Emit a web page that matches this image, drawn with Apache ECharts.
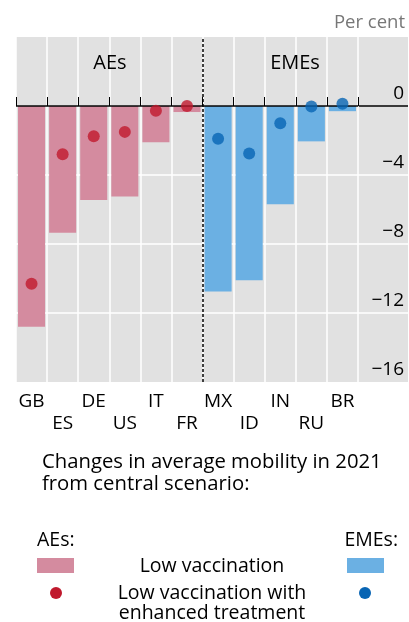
<!DOCTYPE html>
<html><head><meta charset="utf-8">
<script src="https://cdn.jsdelivr.net/npm/echarts@6/dist/echarts.min.js"></script>
<style>html,body{margin:0;padding:0;background:#fff}#c{width:409px;height:622px}</style>
</head><body><div id="c"></div>
<script>
const categories = ['GB','ES','DE','US','IT','FR','MX','ID','IN','RU','BR'];
const lowVaccAEs   = [-12.8,-7.35,-5.45,-5.25,-2.1,-0.35,null,null,null,null,null];
const lowVaccEMEs  = [null,null,null,null,null,null,-10.75,-10.1,-5.7,-2.05,-0.3];
const enhancedAEs  = [-10.3,-2.8,-1.75,-1.5,-0.27,0.0,null,null,null,null,null];
const enhancedEMEs = [null,null,null,null,null,null,-1.9,-2.75,-1.0,-0.03,0.13];
const yTicks = [-16,-12,-8,-4,0,4];

const FONT = 'Open Sans';
const pink = '#d48b9f', blue = '#6bb0e3', red = '#c0192d', dblue = '#0865b4', gray = '#e1e1e1';
const nAEs = lowVaccAEs.filter(v => v !== null).length;

const chart = echarts.init(document.getElementById('c'), null, {renderer:'canvas'});
const fmtY = v => v === yTicks[yTicks.length-1] ? '' : (v < 0 ? '\u2212' + Math.abs(v) : String(v));
const f = s => s + 'px "' + FONT + '"';

chart.setOption({
  animation:false,
  textStyle:{fontFamily:FONT},
  grid:[
    {left:16, right:51, top:37, bottom:240, show:true, backgroundColor:gray, borderWidth:0},
    {left:358, right:1, top:37, bottom:240, show:true, backgroundColor:gray, borderWidth:0}
  ],
  xAxis:[
    {type:'category', data:categories, gridIndex:0,
     axisLine:{show:false},
     axisTick:{show:true, inside:true, length:9, lineStyle:{color:'#000', width:1}},
     splitLine:{show:true, lineStyle:{color:'#fff', width:1.5}},
     axisLabel:{fontFamily:FONT, fontSize:19, color:'#000', margin:9, lineHeight:22, interval:0,
       formatter:(v,i)=> i%2 ? '\n'+v : v}},
    {type:'category', data:[''], gridIndex:1, show:false},
    {type:'value', gridIndex:0, min:0, max:categories.length, show:false}
  ],
  yAxis:[
    {type:'value', gridIndex:0, min:yTicks[0], max:yTicks[yTicks.length-1], interval:4,
     axisLine:{show:false}, axisTick:{show:false}, axisLabel:{show:false},
     splitLine:{show:true, lineStyle:{color:['transparent','#fff','#fff','#fff','#fff','transparent'], width:1.5}}},
    {type:'value', gridIndex:1, min:yTicks[0], max:yTicks[yTicks.length-1], interval:4, position:'right',
     axisLine:{show:false}, axisTick:{show:false},
     axisLabel:{inside:true, fontFamily:FONT, fontSize:19, color:'#000', formatter:fmtY,
       verticalAlign:'bottom', margin:4, padding:[0,0,3,0]},
     splitLine:{show:true, lineStyle:{color:['transparent','#fff','#fff','#fff','#000','transparent'], width:1.5}}}
  ],
  series:[
    {type:'bar', name:'AEs low vaccination', data:lowVaccAEs, barGap:'-100%', barCategoryGap:'13%',
     itemStyle:{color:pink}, z:2,
     markLine:{silent:true, symbol:'none', label:{show:false}, animation:false,
       data:[{yAxis:0, lineStyle:{color:'#000', width:1.5, type:'solid'}}]}},
    {type:'bar', name:'EMEs low vaccination', data:lowVaccEMEs, barGap:'-100%', barCategoryGap:'13%',
     itemStyle:{color:blue}, z:2},
    {type:'scatter', name:'AEs enhanced', data:enhancedAEs, symbolSize:12, itemStyle:{color:red}, z:5},
    {type:'scatter', name:'EMEs enhanced', data:enhancedEMEs, symbolSize:12, itemStyle:{color:dblue}, z:5},
    {type:'line', name:'divider', xAxisIndex:2, yAxisIndex:0, data:[], z:4,
     markLine:{silent:true, symbol:'none', label:{show:false}, animation:false,
       data:[{xAxis:nAEs, lineStyle:{color:'#000', width:1.5, type:[3,2]}}]}}
  ],
  graphic:[
    {type:'text', right:4, top:13, z:100, style:{text:'Per cent', font:f(18.5), fill:'#777'}},
    {type:'text', x:110, y:63, z:100, style:{text:'AEs', font:f(20), fill:'#000', align:'center', verticalAlign:'middle'}},
    {type:'text', x:295, y:63, z:100, style:{text:'EMEs', font:f(20), fill:'#000', align:'center', verticalAlign:'middle'}},
    {type:'text', x:42, y:451, z:100, style:{text:'Changes in average mobility in 2021\nfrom central scenario:', font:f(20.3), lineHeight:22, fill:'#000'}},
    {type:'text', x:37, y:540, z:100, style:{text:'AEs:', font:f(19.5), fill:'#000', verticalAlign:'middle'}},
    {type:'text', x:398, y:540, z:100, style:{text:'EMEs:', font:f(19.5), fill:'#000', align:'right', verticalAlign:'middle'}},
    {type:'rect', z:100, shape:{x:37, y:558, width:37, height:15}, style:{fill:pink}},
    {type:'rect', z:100, shape:{x:347, y:558, width:37, height:15}, style:{fill:blue}},
    {type:'circle', z:100, shape:{cx:56, cy:593, r:6}, style:{fill:red}},
    {type:'circle', z:100, shape:{cx:365, cy:593, r:6}, style:{fill:dblue}},
    {type:'text', x:212, y:566, z:100, style:{text:'Low vaccination', font:f(19.5), fill:'#000', align:'center', verticalAlign:'middle'}},
    {type:'text', x:212, y:603, z:100, style:{text:'Low vaccination with\nenhanced treatment', font:f(19.5), lineHeight:20, fill:'#000', align:'center', verticalAlign:'middle'}}
  ]
});
</script></body></html>
